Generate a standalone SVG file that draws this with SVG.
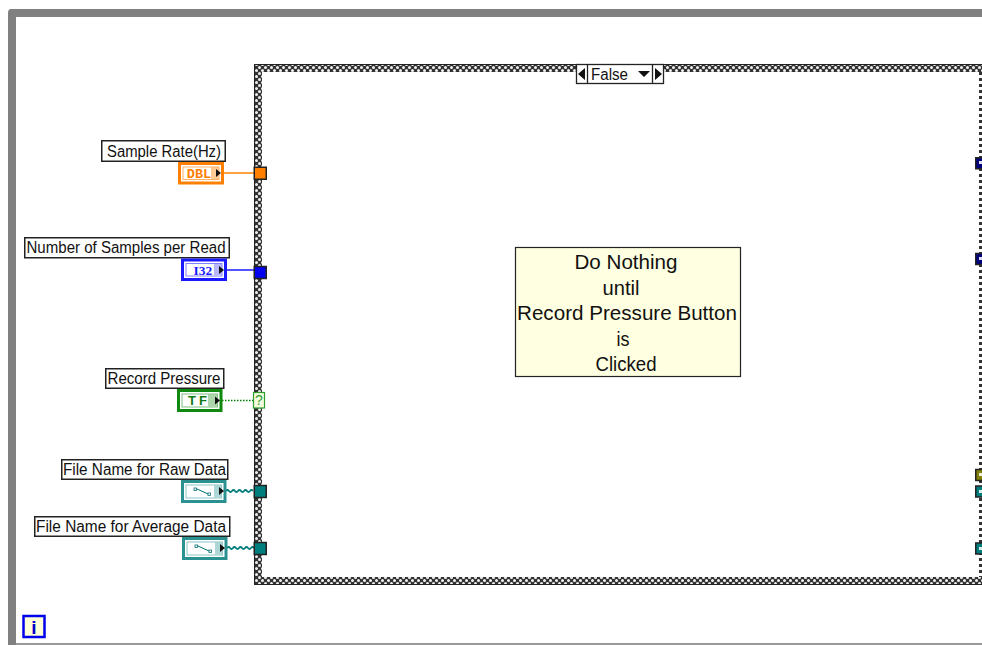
<svg xmlns="http://www.w3.org/2000/svg" width="982" height="645" viewBox="0 0 982 645">
<style>
text{font-family:"Liberation Sans",Arial,sans-serif;fill:#111}
.lbl{font-size:16px;text-anchor:middle}
.lb{fill:#fff;stroke:#222;stroke-width:1.5}
.cmt{font-size:21px;text-anchor:middle}
.tun{stroke:#222;stroke-width:1.5}
.ty{font-family:"Liberation Mono",monospace;font-size:13.5px;font-weight:bold;text-anchor:middle}
.arr{fill:#111}
</style>
<defs>
<pattern id="chk" width="6" height="6" patternUnits="userSpaceOnUse">
<rect width="6" height="6" fill="#333"/>
<circle cx="1.5" cy="1.5" r="1.5" fill="#f2f2f2"/>
<circle cx="4.500" cy="4.500" r="1.5" fill="#f2f2f2"/>
</pattern>
</defs>
<rect width="982" height="645" fill="#fff"/>
<g id="diagram-frame">
<path d="M982 9H11Q8 9 8 13V645H16V17H982Z" fill="#808080"/>
<rect x="16" y="643" width="966" height="2" fill="#999"/>
</g>
<g id="case-structure">
<path fill-rule="evenodd" d="M254 64H982V585H254ZM262 72V577H979V72Z" fill="url(#chk)"/>
<path d="M254.500 585V64.500H982M254.500 584.500H982" fill="none" stroke="#222" stroke-width="1"/>
<rect x="979" y="72" width="3" height="505" fill="#fff"/>
<path d="M980.500 72V577" stroke="#333" stroke-width="3" stroke-dasharray="3 3"/>
</g>
<g id="case-selector">
<rect x="576.500" y="64.500" width="87" height="19" fill="#fff" stroke="#222" stroke-width="1.300"/>
<path d="M587.500 64.500V83.500M652.500 64.500V83.500" stroke="#222" stroke-width="1.300"/>
<path class="arr" d="M585 68V80L578 74ZM655 68V80L662 74ZM638 71H650L644 77Z"/>
<text x="591" y="80" font-size="16" textLength="37" lengthAdjust="spacingAndGlyphs">False</text>
</g>
<g id="connectors">
<path d="M223 173H254" stroke="#ff8000" stroke-width="1.500" fill="none"/>
<path d="M226 270H254" stroke="#1a1aff" stroke-width="1.500" fill="none"/>
<path d="M222 400.500H253" stroke="#008000" stroke-width="1.500" stroke-dasharray="1.500 1.500" fill="none"/>
<path d="M226 491q1.500 -2 3 0t3 0t3 0t3 0t3 0t3 0t3 0t3 0t3 0" stroke="#007d7d" stroke-width="1.800" fill="none"/>
<path d="M227 548q1.500 -2 3 0t3 0t3 0t3 0t3 0t3 0t3 0t3 0t3 0" stroke="#007d7d" stroke-width="1.800" fill="none"/>
</g>
<g id="sample-rate">
<rect class="lb" x="101.750" y="140.750" width="123.500" height="20.500"/>
<text class="lbl" x="164" y="156.500" textLength="114" lengthAdjust="spacingAndGlyphs">Sample Rate(Hz)</text>
<rect x="179.500" y="163.500" width="43" height="19.500" fill="#fff" stroke="#ff8000" stroke-width="3"/>
<rect x="183" y="167" width="36" height="12.500" fill="#fff" stroke="#ffb266"/>
<rect x="211" y="167" width="8" height="12" fill="#ffb266" opacity=".7"/>
<text class="ty" x="199" y="177.500" style="fill:#ff8000">DBL</text>
<path class="arr" d="M216 169V177L221 173Z"/>
<rect class="tun" x="254.250" y="167.250" width="12" height="12" fill="#ff8000"/>
</g>
<g id="samples-per-read">
<rect class="lb" x="24.750" y="237.750" width="204.500" height="20"/>
<text class="lbl" x="126" y="253" textLength="199" lengthAdjust="spacingAndGlyphs">Number of Samples per Read</text>
<rect x="182.500" y="260" width="43" height="19.500" fill="#fff" stroke="#1a1aff" stroke-width="3"/>
<rect x="186" y="263.500" width="36" height="12.500" fill="#fff" stroke="#8080ff"/>
<rect x="214" y="264" width="8" height="11" fill="#9999ff" opacity=".7"/>
<text class="ty" x="203" y="274.500" style="fill:#1a1aff;font-family:'Liberation Serif',serif">I32</text>
<path class="arr" d="M219 266V274L224 270Z"/>
<rect class="tun" x="254.250" y="266.500" width="12" height="12" fill="#0000ee"/>
</g>
<g id="record-pressure">
<rect class="lb" x="105.750" y="368.750" width="118" height="19.500"/>
<text class="lbl" x="164" y="384" textLength="113" lengthAdjust="spacingAndGlyphs">Record Pressure</text>
<rect x="178.500" y="390.500" width="42.500" height="20" fill="#fff" stroke="#0f8a0f" stroke-width="3"/>
<rect x="182" y="394" width="35.500" height="13" fill="#fff" stroke="#7cc07c"/>
<rect x="208" y="394" width="9" height="12.500" fill="#99cc99" opacity=".8"/>
<text x="199" y="405" style="font-weight:bold;font-size:13px;fill:#0f7a0f;letter-spacing:3px" text-anchor="middle">TF</text>
<path class="arr" d="M215 396.500V404.500L220 400.500Z"/>
<rect x="253.500" y="392.500" width="11" height="15.500" fill="#f4fbdc" stroke="#2f9e2f" stroke-width="1.200"/>
<text x="259" y="405" font-size="14" text-anchor="middle" style="fill:#2f9e2f">?</text>
</g>
<g id="file-raw">
<rect class="lb" x="61.750" y="459.750" width="166" height="19.500"/>
<text class="lbl" x="144.500" y="475" textLength="163" lengthAdjust="spacingAndGlyphs">File Name for Raw Data</text>
<rect x="182.500" y="481.500" width="42.500" height="20" fill="#fff" stroke="#2a9090" stroke-width="3"/>
<rect x="186" y="485" width="35.500" height="13" fill="#fff" stroke="#8cc4c4"/>
<rect x="214" y="485" width="8" height="12.500" fill="#99cccc" opacity=".8"/>
<path d="M194 489H197L208 494" stroke="#006f6f" fill="none"/>
<rect x="194" y="488" width="2.500" height="2.500" fill="#fff" stroke="#006f6f" stroke-width=".8"/>
<rect x="208" y="493" width="2.500" height="2.500" fill="#fff" stroke="#006f6f" stroke-width=".8"/>
<path class="arr" d="M219 487V495L224 491Z"/>
<rect class="tun" x="254.250" y="485.500" width="12" height="12" fill="#007d7d"/>
</g>
<g id="file-average">
<rect class="lb" x="34.750" y="516.750" width="195" height="19.500"/>
<text class="lbl" x="131" y="532" textLength="190" lengthAdjust="spacingAndGlyphs">File Name for Average Data</text>
<rect x="183.500" y="538.500" width="42.500" height="20" fill="#fff" stroke="#2a9090" stroke-width="3"/>
<rect x="187" y="542" width="35.500" height="13" fill="#fff" stroke="#8cc4c4"/>
<rect x="215" y="542" width="8" height="12.500" fill="#99cccc" opacity=".8"/>
<path d="M195 546H198L209 551" stroke="#006f6f" fill="none"/>
<rect x="195" y="545" width="2.500" height="2.500" fill="#fff" stroke="#006f6f" stroke-width=".8"/>
<rect x="209" y="550" width="2.500" height="2.500" fill="#fff" stroke="#006f6f" stroke-width=".8"/>
<path class="arr" d="M220 544V552L225 548Z"/>
<rect class="tun" x="254.250" y="542.500" width="12" height="12" fill="#007d7d"/>
</g>
<g id="comment">
<rect x="515.500" y="247.500" width="225" height="129" fill="#ffffe1" stroke="#222" stroke-width="1.200"/>
<text class="cmt" x="626" y="269" textLength="103" lengthAdjust="spacingAndGlyphs">Do Nothing</text>
<text class="cmt" x="621" y="295" textLength="37" lengthAdjust="spacingAndGlyphs">until</text>
<text class="cmt" x="627" y="320" textLength="220" lengthAdjust="spacingAndGlyphs">Record Pressure Button</text>
<text class="cmt" x="623" y="346" textLength="13" lengthAdjust="spacingAndGlyphs">is</text>
<text class="cmt" x="626" y="371" textLength="61" lengthAdjust="spacingAndGlyphs">Clicked</text>
</g>
<g id="right-tunnels">
<rect class="tun" x="975.750" y="157.750" width="7" height="11" fill="#00007d"/><rect x="979" y="161" width="3" height="3" fill="#dde"/>
<rect class="tun" x="975.750" y="253.500" width="7" height="11" fill="#00007d"/><rect x="979" y="257" width="3" height="3" fill="#dde"/>
<rect class="tun" x="975.750" y="469.500" width="7" height="11" fill="#80800a"/><rect x="979" y="473" width="3" height="3" fill="#eed"/>
<rect class="tun" x="975.750" y="486" width="7" height="11" fill="#007d7d"/><rect x="979" y="490" width="3" height="3" fill="#dee"/>
<rect class="tun" x="975.750" y="543" width="7" height="11" fill="#007d7d"/><rect x="979" y="547" width="3" height="3" fill="#dee"/>
</g>
<g id="iteration-terminal">
<rect x="23.500" y="616" width="21" height="21" fill="#ffffd8" stroke="#0000ee" stroke-width="2.500"/>
<text x="34" y="634" font-size="19" font-weight="bold" text-anchor="middle" style="fill:#0000cc">i</text>
</g>
</svg>
